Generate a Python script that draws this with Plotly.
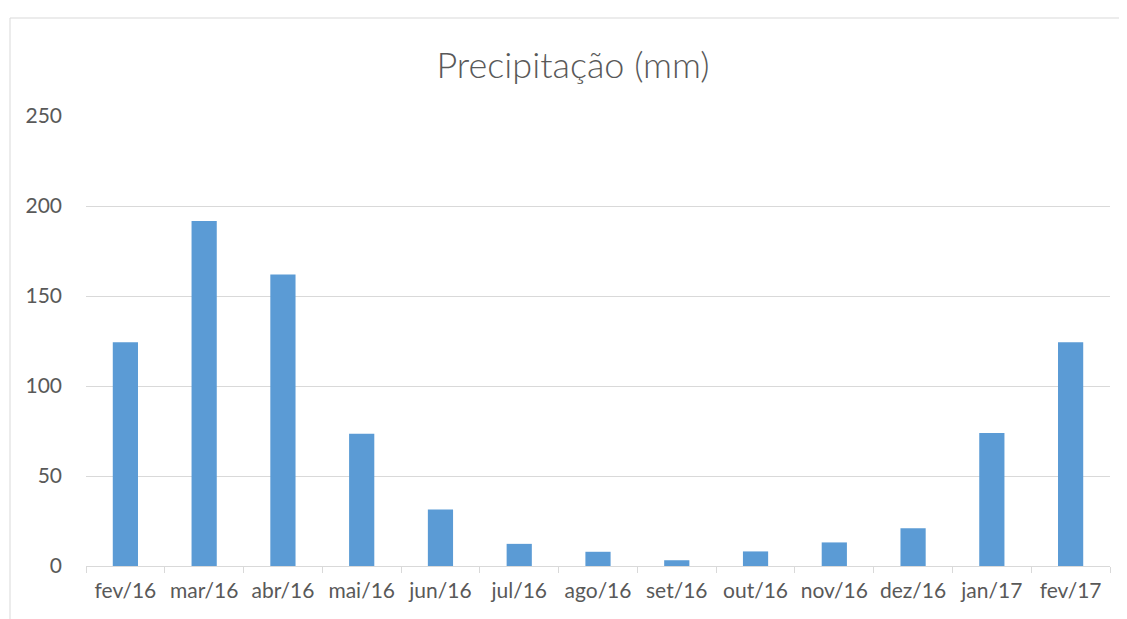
import plotly.graph_objects as go

categories = ["fev/16", "mar/16", "abr/16", "mai/16", "jun/16", "jul/16", "ago/16",
              "set/16", "out/16", "nov/16", "dez/16", "jan/17", "fev/17"]
precip = [124.3, 191.6, 162.0, 73.5, 31.4, 12.3, 7.9, 3.2, 8.1, 13.1, 21.0, 73.9, 124.3]
y_ticks = [0, 50, 100, 150, 200, 250]

# page renders figure with an 8px body offset
OFF = 8
W, H = 1127 - OFF, 619 - OFF
L, T = 86 - OFF, 116 - OFF
R = W - (1110 - OFF)
B = H - (566 - OFF)
pw = W - L - R
ph = H - T - B

fig = go.Figure(go.Bar(x=categories, y=precip, marker=dict(color="#5b9bd5", line=dict(width=0))))

def px_x(p):
    return (p - OFF - L) / pw

def px_y(p):
    return (H - B - (p - OFF)) / ph

fig.update_layout(
    width=W, height=H,
    margin=dict(l=L, r=R, t=T, b=B),
    paper_bgcolor="white", plot_bgcolor="white",
    bargap=0.68,
    showlegend=False,
    title=dict(text="Precipitação (mm)", x=px_x(573), xanchor="center", xref="paper",
               y=1 - (65 - OFF) / H, yanchor="middle",
               font=dict(family="Lato", size=36, weight=300, color="#595959")),
    font=dict(family="Lato", size=21, color="#595959"),
    xaxis=dict(showgrid=False, showline=True, linecolor="#d9d9d9", linewidth=1,
               ticks="outside", tickson="boundaries", ticklen=6, tickcolor="#d9d9d9",
               ticklabelstandoff=6, tickangle=0, automargin=False,
               tickfont=dict(size=21, color="#595959"), fixedrange=True),
    yaxis=dict(range=[0, 250], tickvals=y_ticks, showgrid=True, gridcolor="#d9d9d9",
               gridwidth=1, zeroline=False, showline=False, ticks="",
               ticklabelstandoff=23, automargin=False,
               tickfont=dict(size=21, color="#595959"), fixedrange=True),
    shapes=[
        dict(type="line", xref="paper", yref="paper", x0=px_x(10), x1=px_x(1200),
             y0=px_y(18), y1=px_y(18), line=dict(color="#d9d9d9", width=1)),
        dict(type="line", xref="paper", yref="paper", x0=px_x(10), x1=px_x(10),
             y0=px_y(18), y1=px_y(700), line=dict(color="#d9d9d9", width=1)),
    ],
)

fig.write_html("out.html")
